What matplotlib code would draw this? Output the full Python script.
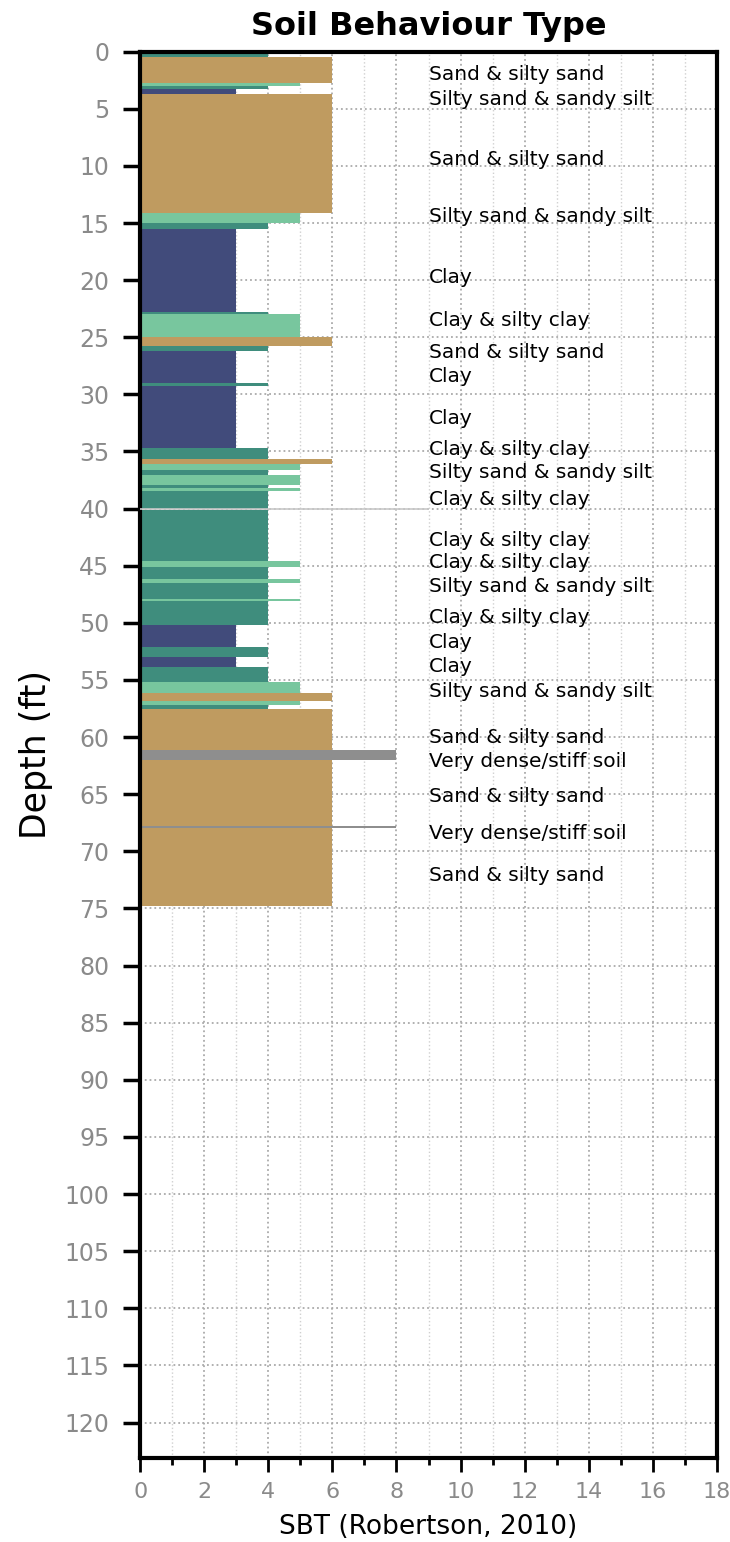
import matplotlib.pyplot as plt
from matplotlib.ticker import MultipleLocator

# layers: top depth, bottom depth (ft), SBT zone
depth_top = [0.0, 0.45, 2.7, 3.0, 3.3, 3.7, 14.1, 15.0, 15.5, 22.8, 23.0, 25.0, 25.8, 26.2, 29.0,
             29.3, 34.7, 35.7, 36.1, 36.6, 37.1, 37.9, 38.2, 38.5, 40.1, 44.6, 45.1, 46.2, 46.5,
             47.9, 48.1, 50.2, 52.1, 53.0, 53.9, 55.2, 56.1, 56.8, 57.2, 57.5, 57.7, 61.1, 62.0,
             67.8, 68.0]
depth_bot = [0.45, 2.7, 3.0, 3.3, 3.7, 14.1, 15.0, 15.5, 22.8, 23.0, 25.0, 25.8, 26.2, 29.0, 29.3,
             34.7, 35.7, 36.1, 36.6, 37.1, 37.9, 38.2, 38.5, 40.0, 44.6, 45.1, 46.2, 46.5, 47.9,
             48.1, 50.2, 52.1, 53.0, 53.9, 55.2, 56.1, 56.8, 57.2, 57.5, 57.7, 61.1, 62.0, 67.8,
             68.0, 74.8]
sbt = [4, 6, 5, 4, 3, 6, 5, 4, 3, 4, 5, 6, 4, 3, 4,
       3, 4, 6, 5, 4, 5, 4, 5, 4, 4, 5, 4, 5, 4,
       5, 4, 3, 4, 3, 4, 5, 6, 5, 4, 6, 6, 8, 6,
       8, 6]

water_depth = 40.0
water_extent = 9

label_depths = [2.0, 4.2, 9.4, 14.4, 19.8, 23.5, 26.3, 28.4, 32.1, 34.8, 36.8, 39.2, 42.8, 44.7,
                46.8, 49.5, 51.7, 53.8, 56.0, 60.0, 62.1, 65.2, 68.4, 72.1]
label_texts = ["Sand & silty sand", "Silty sand & sandy silt", "Sand & silty sand",
               "Silty sand & sandy silt", "Clay", "Clay & silty clay", "Sand & silty sand",
               "Clay", "Clay", "Clay & silty clay", "Silty sand & sandy silt",
               "Clay & silty clay", "Clay & silty clay", "Clay & silty clay",
               "Silty sand & sandy silt", "Clay & silty clay", "Clay", "Clay",
               "Silty sand & sandy silt", "Sand & silty sand", "Very dense/stiff soil",
               "Sand & silty sand", "Very dense/stiff soil", "Sand & silty sand"]

zone_colors = {3: "#414b7b", 4: "#3f8d7d", 5: "#78c69e", 6: "#bf9b60", 8: "#8e8e8e"}

fig = plt.figure(figsize=(7.3, 15.42), dpi=100)
ax = fig.add_axes([0.192, 0.0545, 0.79, 0.912])

thick = [b - t for t, b in zip(depth_top, depth_bot)]
ax.barh(depth_top, sbt, height=thick, left=0, align="edge",
        color=[zone_colors[z] for z in sbt], linewidth=0, zorder=2)
ax.hlines(water_depth, 0, water_extent, color="#c8c8c8", linewidth=1.2, zorder=3)

for d, t in zip(label_depths, label_texts):
    ax.text(9.0, d, t, fontsize=14.5, va="center", ha="left", color="black", zorder=4)

ax.set_xlim(0, 18)
ax.set_ylim(123.1, 0)
ax.xaxis.set_major_locator(MultipleLocator(2))
ax.xaxis.set_minor_locator(MultipleLocator(1))
ax.yaxis.set_major_locator(MultipleLocator(5))

ax.grid(which="major", axis="x", linestyle=":", color="#aaaaaa", linewidth=1.3, zorder=0)
ax.grid(which="minor", axis="x", linestyle=":", color="#d0d0d0", linewidth=1.0, zorder=0)
ax.grid(which="major", axis="y", linestyle=":", color="#aaaaaa", linewidth=1.3, zorder=0)
ax.set_axisbelow(True)

ax.tick_params(axis="y", which="major", length=12, width=2.5, color="black",
               labelcolor="#8a8a8a", labelsize=17, pad=10)
ax.tick_params(axis="x", which="major", length=10, width=2, color="black",
               labelcolor="#8a8a8a", labelsize=16, pad=7)
ax.tick_params(axis="x", which="minor", length=5, width=2, color="black")

for s in ["left", "bottom", "right"]:
    ax.spines[s].set_linewidth(3)
    ax.spines[s].set_color("black")
ax.spines["top"].set_linewidth(3)
ax.spines["top"].set_linestyle((0, (4, 1)))

ax.set_title("Soil Behaviour Type", fontsize=23, fontweight="bold", pad=12)
ax.set_xlabel("SBT (Robertson, 2010)", fontsize=19, va="center")
ax.xaxis.set_label_coords(0.5, -0.049)
ax.set_ylabel("Depth (ft)", fontsize=25, labelpad=8)

fig.savefig("out.png", dpi=100)
